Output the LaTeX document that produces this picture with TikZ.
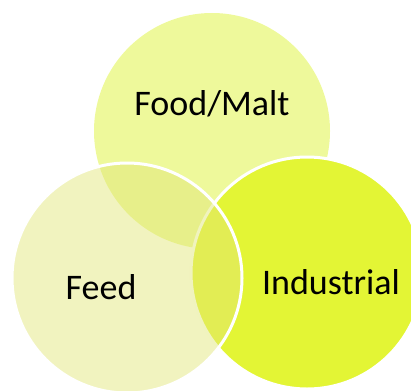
\documentclass[tikz,border=0pt]{standalone}
\usepackage{fontspec}
\setmainfont{Carlito}
\usetikzlibrary{positioning}

\definecolor{foodfill}{RGB}{238,249,155}
\definecolor{indfill}{RGB}{227,245,53}
\definecolor{feedfill}{RGB}{225,230,120}

\begin{document}
\begin{tikzpicture}[x=1pt, y=-1pt,
  every node/.style = {font = \fontsize{36}{42}\selectfont, inner sep = 0pt},
  ring/.style = {circle, draw = white, line width = 3pt}]
  \useasboundingbox (0,0) rectangle (411,390);

  % the three sets, back to front
  \node (FM)  [circle, fill = foodfill, minimum size = 236pt] at (212,131) {};
  \node (IND) [ring, fill = indfill, minimum size = 232pt]    at (307,273) {};
  \node (FD)  [ring, fill = feedfill, fill opacity = 0.475, minimum size = 230pt] at (127,278) {};

  % labels
  \node (FMtext)  at (212,104) {Food/Malt};
  \node (FDtext)  at (101,287) {Feed};
  \node (INDtext) at (331,282) {Industrial};
\end{tikzpicture}
\end{document}
